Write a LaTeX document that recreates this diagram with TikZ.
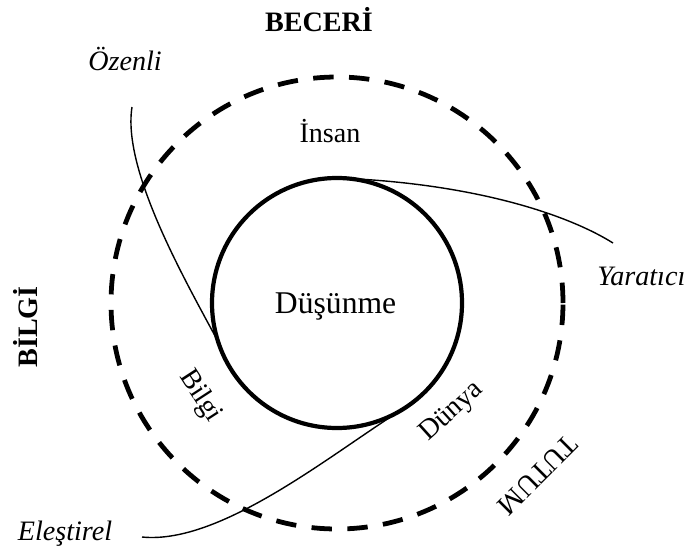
\documentclass[tikz,border=0pt]{standalone}
\usepackage{fontspec}
\setmainfont{Liberation Serif}
\usetikzlibrary{positioning}

\begin{document}
\begin{tikzpicture}[
  every node/.style={inner sep=0pt, font=\fontsize{20}{24}\selectfont},
  ring/.style={circle, draw, outer sep=0pt},
  corering/.style={ring, line width=3pt, minimum size=6.25cm},
  dashring/.style={ring, line width=3.4pt, dash pattern=on 14.5pt off 11pt, minimum size=11.3cm},
  dim/.style={font=\fontsize{20}{24}\selectfont\bfseries},
  trait/.style={font=\fontsize{20}{24}\selectfont\itshape},
  link/.style={line width=1pt}
]
\useasboundingbox (0,0) rectangle (17.2,13.725);

% Circles
\node[dashring] (outer) at (8.425,6.15) {};
\node[corering] (think) at (8.425,6.15) {};
\node[anchor=base, font=\fontsize{22.5}{27}\selectfont] (dus) at (8.39,5.9) {Düşünme};

% Dimensions
\node[dim, anchor=base] (beceri) at (7.975,12.925) {BECERİ};
\node[dim, rotate=90]   (bilgiD) at (0.65,5.55)    {BİLGİ};
\node[rotate=-135]      (tutum)  at (13.45,1.85)   {TUTUM};

% Inner labels
\node[anchor=base]  (insan) at (8.25,10.175) {İnsan};
\node[rotate=-57]   (bilgi) at (5.0,3.82)    {Bilgi};
\node[rotate=42]    (dunya) at (11.3,3.425)  {Dünya};

% Traits
\node[trait, anchor=base]      (ozenli)  at (3.125,11.975) {Özenli};
\node[trait, anchor=base west] (yaratici) at (14.925,6.6)  {Yaratıcı};
\node[trait, anchor=base]      (elestir) at (1.625,0.225)  {Eleştirel};

% Curves
\coordinate (ozA) at (3.3,11.05);
\coordinate (yaB) at (15.325,7.65);
\coordinate (elA) at (3.55,0.3);
\draw[link] (ozA) .. controls (3.05,9.475) and (4.625,6.725) .. (think.198);
\draw[link] (think.90) .. controls (11.75,9.15) and (14.125,8.4) .. (yaB);
\draw[link] (elA) .. controls (5.5,0.1) and (8.25,2.35) .. (think.-60);
\end{tikzpicture}
\end{document}
